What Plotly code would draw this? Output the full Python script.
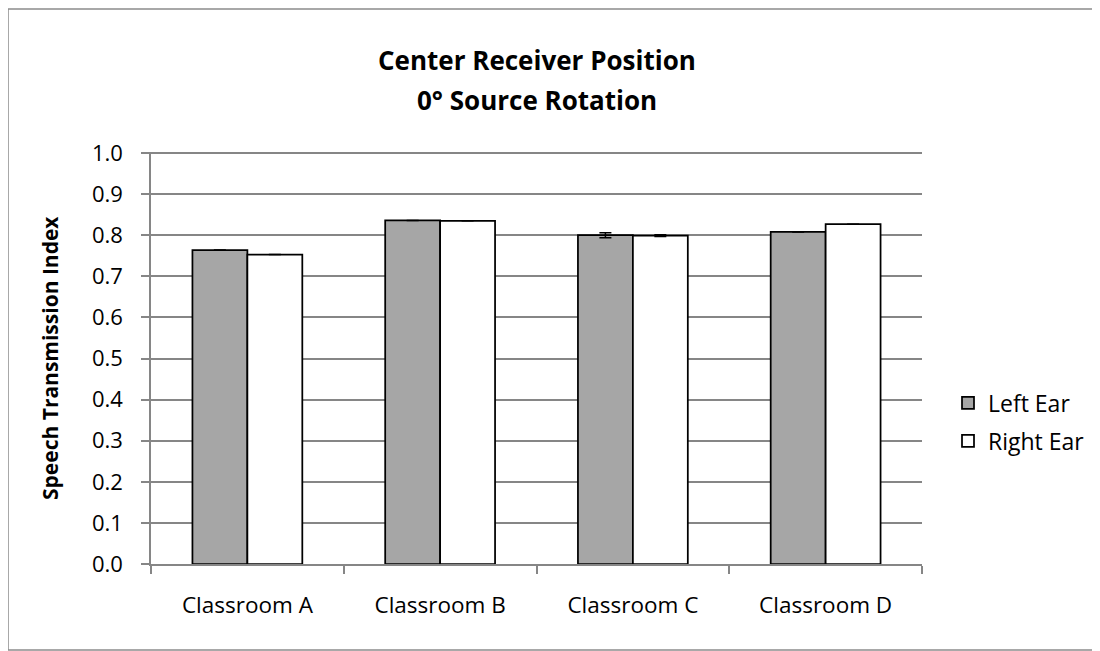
import plotly.graph_objects as go

categories = ["Classroom A", "Classroom B", "Classroom C", "Classroom D"]
left_ear = [0.764, 0.836, 0.800, 0.808]
right_ear = [0.753, 0.835, 0.799, 0.827]
left_err = [0.0, 0.0, 0.006, 0.0]
right_err = [0.0, 0.0, 0.002, 0.0]
y_ticks = [0.0, 0.1, 0.2, 0.3, 0.4, 0.5, 0.6, 0.7, 0.8, 0.9, 1.0]

FONT = "Open Sans"

fig = go.Figure()
fig.add_trace(go.Bar(
    name="Left Ear", x=categories, y=left_ear,
    marker=dict(color="#a6a6a6", line=dict(color="black", width=1.75)),
    error_y=dict(type="data", array=left_err, color="black", thickness=1.5, width=6,
                 visible=True),
    legendgroup="l",
))
fig.add_trace(go.Bar(
    name="Right Ear", x=categories, y=right_ear,
    marker=dict(color="white", line=dict(color="black", width=1.75)),
    error_y=dict(type="data", array=right_err, color="black", thickness=1.5, width=6,
                 visible=True),
    legendgroup="r",
))

W, H = 1100, 651
L, R, T, B = 143, 186, 144, 95
pw, ph = W - L - R, H - T - B
YMAX = 1.0025

def px_to_paper_y(py):
    return 1 - (py - T) / ph

def px_to_paper_x(px):
    return (px - L) / pw

fig.update_layout(
    width=W, height=H,
    margin=dict(l=L, r=R, t=T, b=B, autoexpand=False),
    paper_bgcolor="white", plot_bgcolor="white",
    font=dict(family=FONT, color="black"),
    barmode="group", bargap=0.43, bargroupgap=0,
    legend=dict(
        x=px_to_paper_x(940), xanchor="left",
        y=px_to_paper_y(414), yanchor="middle",
        font=dict(size=23, family=FONT, color="black"),
        traceorder="grouped", tracegroupgap=5,
        bgcolor="rgba(0,0,0,0)",
    ),
    showlegend=True,
)
fig.add_annotation(text="<b>Center Receiver Position</b>", xref="paper", yref="paper",
                   x=0.5, y=px_to_paper_y(52), xanchor="center", yanchor="middle",
                   showarrow=False, font=dict(size=26, family=FONT, color="black"))
fig.add_annotation(text="<b>0° Source Rotation</b>", xref="paper", yref="paper",
                   x=0.5, y=px_to_paper_y(92), xanchor="center", yanchor="middle",
                   showarrow=False, font=dict(size=26, family=FONT, color="black"))
fig.add_annotation(text="<b>Speech Transmission Index</b>", xref="paper", yref="paper",
                   x=px_to_paper_x(42), y=0.5, xanchor="center", yanchor="middle",
                   textangle=-90, showarrow=False,
                   font=dict(size=21, family=FONT, color="black"))

fig.update_yaxes(
    range=[0, YMAX], tickvals=y_ticks, ticktext=[f"{v:.1f}" for v in y_ticks],
    showgrid=True, gridcolor="#868686", gridwidth=1.5,
    showline=True, linecolor="#868686", linewidth=1.5,
    ticks="outside", ticklen=8, tickcolor="#868686", tickwidth=1.5,
    ticklabelstandoff=14,
    tickfont=dict(size=22, family=FONT, color="black"),
    zeroline=False,
)
fig.update_xaxes(
    showline=True, linecolor="#868686", linewidth=1.5,
    ticks="outside", ticklen=8, tickcolor="#868686", tickwidth=1.5,
    tickson="boundaries",
    tickfont=dict(size=22.5, family=FONT, color="black"),
    ticklabelstandoff=20,
)

# outer chart border (right edge lies beyond the visible window)
xl, xr = px_to_paper_x(0), px_to_paper_x(W + 40)
yt, yb = px_to_paper_y(1), px_to_paper_y(642)
fig.add_shape(type="path", xref="paper", yref="paper",
              path=f"M {xr} {yt} L {xl} {yt} L {xl} {yb} L {xr} {yb}",
              line=dict(color="#8c8c8c", width=1.5), fillcolor="rgba(0,0,0,0)",
              layer="below")

fig.write_html("out.html")
